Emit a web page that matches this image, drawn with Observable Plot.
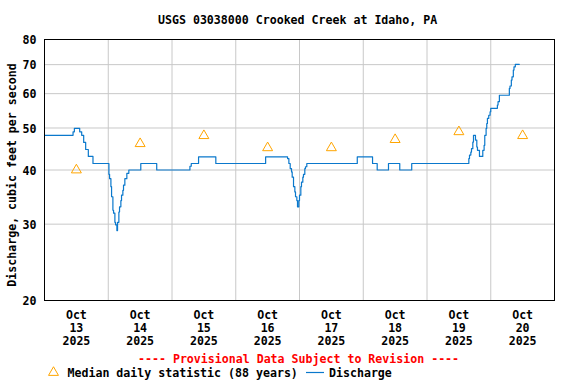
<!DOCTYPE html>
<html>
<head>
<meta charset="utf-8">
<script src="https://cdn.jsdelivr.net/npm/d3@7"></script>
<script src="https://cdn.jsdelivr.net/npm/@observablehq/plot@0.6"></script>
<style>
  body { margin: 0; background: #fff; }
  #wrap { position: relative; width: 576px; height: 384px; font-family: "DejaVu Sans Mono", monospace; font-weight: bold; font-size: 11.6px; color: #000; }
  .t { position: absolute; white-space: pre; line-height: 14px; }
  svg { display: block; }
</style>
</head>
<body>
<div id="wrap"></div>
<script>
// ---- data ----
const title = "USGS 03038000 Crooked Creek at Idaho, PA";
const yLabel = "Discharge, cubic feet per second";
const yTicks = [20, 30, 40, 50, 60, 70, 80];
const dayLabels = ["2025-10-13", "2025-10-14", "2025-10-15", "2025-10-16", "2025-10-17", "2025-10-18", "2025-10-19", "2025-10-20"];
const medianValues = [40, 46, 48, 45, 45, 47, 49, 48];
const provisional = "---- Provisional Data Subject to Revision ----";
const legendMedian = "Median daily statistic (88 years)";
const legendDischarge = "Discharge";

const dischargeTimes = [
  "2025-10-13T00:00","2025-10-13T10:45","2025-10-13T11:15","2025-10-13T13:15","2025-10-13T14:00",
  "2025-10-13T14:45","2025-10-13T15:30","2025-10-13T16:30","2025-10-13T18:15",
  "2025-10-14T00:15","2025-10-14T00:30","2025-10-14T01:00","2025-10-14T01:15","2025-10-14T01:45",
  "2025-10-14T02:00","2025-10-14T02:30","2025-10-14T02:45","2025-10-14T03:15","2025-10-14T03:30",
  "2025-10-14T04:00","2025-10-14T04:15","2025-10-14T04:45","2025-10-14T05:00","2025-10-14T05:30",
  "2025-10-14T05:45","2025-10-14T06:15","2025-10-14T07:00","2025-10-14T07:45","2025-10-14T12:15",
  "2025-10-14T18:15",
  "2025-10-15T06:45","2025-10-15T07:15","2025-10-15T10:00","2025-10-15T16:30",
  "2025-10-16T11:15","2025-10-16T19:30","2025-10-16T20:00","2025-10-16T20:30","2025-10-16T21:00",
  "2025-10-16T21:15","2025-10-16T21:45","2025-10-16T22:15","2025-10-16T22:30","2025-10-16T23:00",
  "2025-10-16T23:15","2025-10-16T23:45",
  "2025-10-17T00:00","2025-10-17T00:30","2025-10-17T00:45","2025-10-17T01:15","2025-10-17T01:30",
  "2025-10-17T02:00","2025-10-17T02:15","2025-10-17T02:45","2025-10-17T21:45",
  "2025-10-18T03:30","2025-10-18T05:15","2025-10-18T09:30","2025-10-18T13:45","2025-10-18T18:15",
  "2025-10-19T15:45","2025-10-19T16:00","2025-10-19T16:30","2025-10-19T16:45","2025-10-19T17:15",
  "2025-10-19T17:30","2025-10-19T18:15","2025-10-19T18:45","2025-10-19T19:00","2025-10-19T19:45",
  "2025-10-19T21:00","2025-10-19T21:30","2025-10-19T21:45","2025-10-19T22:15","2025-10-19T22:30",
  "2025-10-19T22:45","2025-10-19T23:15","2025-10-19T23:45",
  "2025-10-20T00:00","2025-10-20T02:30","2025-10-20T02:45","2025-10-20T03:15","2025-10-20T07:00",
  "2025-10-20T07:15","2025-10-20T07:45","2025-10-20T08:00","2025-10-20T08:30","2025-10-20T08:45",
  "2025-10-20T09:15","2025-10-20T10:45"
];
const dischargeValues = [
  48.1, 49.0, 49.9, 49.0, 48.1,
  46.3, 44.6, 43.0, 41.4,
  39.1, 38.2, 36.6, 34.7, 32.3,
  31.8, 30.3, 29.9, 29.0, 30.3,
  32.0, 32.9, 34.0, 35.0, 35.9,
  36.9, 38.2, 39.3, 40.0, 41.4,
  40.0,
  40.8, 41.4, 42.9, 41.4,
  42.9, 42.5, 41.4, 40.3, 39.6,
  38.5, 36.6, 35.6, 34.7, 34.0,
  32.9, 34.0,
  35.0, 36.6, 37.5, 38.5, 39.1,
  40.3, 40.7, 41.4, 42.9,
  41.4, 40.0, 41.4, 40.0, 41.4,
  42.5, 43.3, 44.0, 44.8, 46.4,
  48.1, 46.9, 45.2, 44.4, 43.0,
  44.4, 45.6, 48.1, 49.9, 51.2,
  52.6, 53.5, 54.5,
  55.5, 56.5, 57.5, 59.5, 61.7,
  62.5, 64.5, 65.6, 68.0, 69.2,
  70.1, 70.1
];

// ---- build tables ----
const utc = s => new Date(s + (s.length === 10 ? "T00:00" : "") + ":00Z");
const discharge = dischargeTimes.map((t, i) => ({date: utc(t), value: dischargeValues[i]}));
const noons = dayLabels.map(d => new Date(d + "T12:00:00Z"));
const medians = noons.map((d, i) => ({date: d, value: medianValues[i]}));
const midnights = dayLabels.slice(1).map(d => new Date(d + "T00:00:00Z"));
const months = ["Jan","Feb","Mar","Apr","May","Jun","Jul","Aug","Sep","Oct","Nov","Dec"];
const fmtDay = d => `${months[d.getUTCMonth()]}\n${d.getUTCDate()}\n${d.getUTCFullYear()}`;

const blue = "#0a78cc";
const orange = "#ffa500";
const grid = "#c8c8c8";

const chart = Plot.plot({
  width: 576,
  height: 384,
  marginLeft: 44,
  marginRight: 22,
  marginTop: 39,
  marginBottom: 84,
  style: {fontFamily: "'DejaVu Sans Mono', monospace", fontWeight: "bold", fontSize: "11.6px", color: "#000", background: "#fff"},
  x: {type: "utc", domain: [utc("2025-10-13"), utc("2025-10-21")], axis: null},
  y: {type: "log", domain: [20, 80], axis: null},
  marks: [
    Plot.gridY(yTicks, {stroke: grid, strokeOpacity: 1, strokeWidth: 1}),
    Plot.gridX(midnights, {stroke: grid, strokeOpacity: 1, strokeWidth: 1}),
    Plot.axisY(yTicks, {tickSize: 0, tickPadding: 8, dy: 1, tickFormat: d => String(d), label: null, fill: "#000"}),
    Plot.text([yLabel], {frameAnchor: "left", text: d => d, rotate: -90, dx: -32, dy: 5, fill: "#000", textAnchor: "middle"}),
    Plot.text(noons, {x: d => d, text: fmtDay, frameAnchor: "bottom", lineAnchor: "top", dy: 9, lineHeight: 1.12, fill: "#000"}),
    Plot.lineY(discharge, {x: "date", y: "value", curve: "step-after", stroke: blue, strokeWidth: 1.2}),
    Plot.dot(medians, {x: "date", y: "value", symbol: "triangle", r: 3.7, stroke: orange, fill: "none", strokeWidth: 1}),
    Plot.frame({stroke: "#000", strokeWidth: 1})
  ]
});

const wrap = document.getElementById("wrap");
wrap.appendChild(chart);

function addText(txt, left, centerY, color) {
  const d = document.createElement("div");
  d.className = "t";
  d.textContent = txt;
  d.style.left = left + "px";
  d.style.top = (centerY - 7) + "px";
  if (color) d.style.color = color;
  wrap.appendChild(d);
  return d;
}
addText(title, 158, 20);
addText(provisional, 138, 359, "#ff0000");
addText(legendMedian, 67.5, 373);
addText(legendDischarge, 329, 373);

// legend symbols
const ns = "http://www.w3.org/2000/svg";
const leg = document.createElementNS(ns, "svg");
leg.setAttribute("width", 576); leg.setAttribute("height", 384);
leg.style.position = "absolute"; leg.style.left = "0"; leg.style.top = "0"; leg.style.pointerEvents = "none";
const tri = document.createElementNS(ns, "path");
tri.setAttribute("d", d3.symbol(d3.symbolTriangle, 43)());
tri.setAttribute("transform", "translate(53.5,372.5)");
tri.setAttribute("fill", "none"); tri.setAttribute("stroke", orange);
leg.appendChild(tri);
const ln = document.createElementNS(ns, "line");
ln.setAttribute("x1", 306); ln.setAttribute("x2", 324); ln.setAttribute("y1", 372.5); ln.setAttribute("y2", 372.5);
ln.setAttribute("stroke", blue); ln.setAttribute("stroke-width", 1.2);
leg.appendChild(ln);
wrap.appendChild(leg);
</script>
</body>
</html>
